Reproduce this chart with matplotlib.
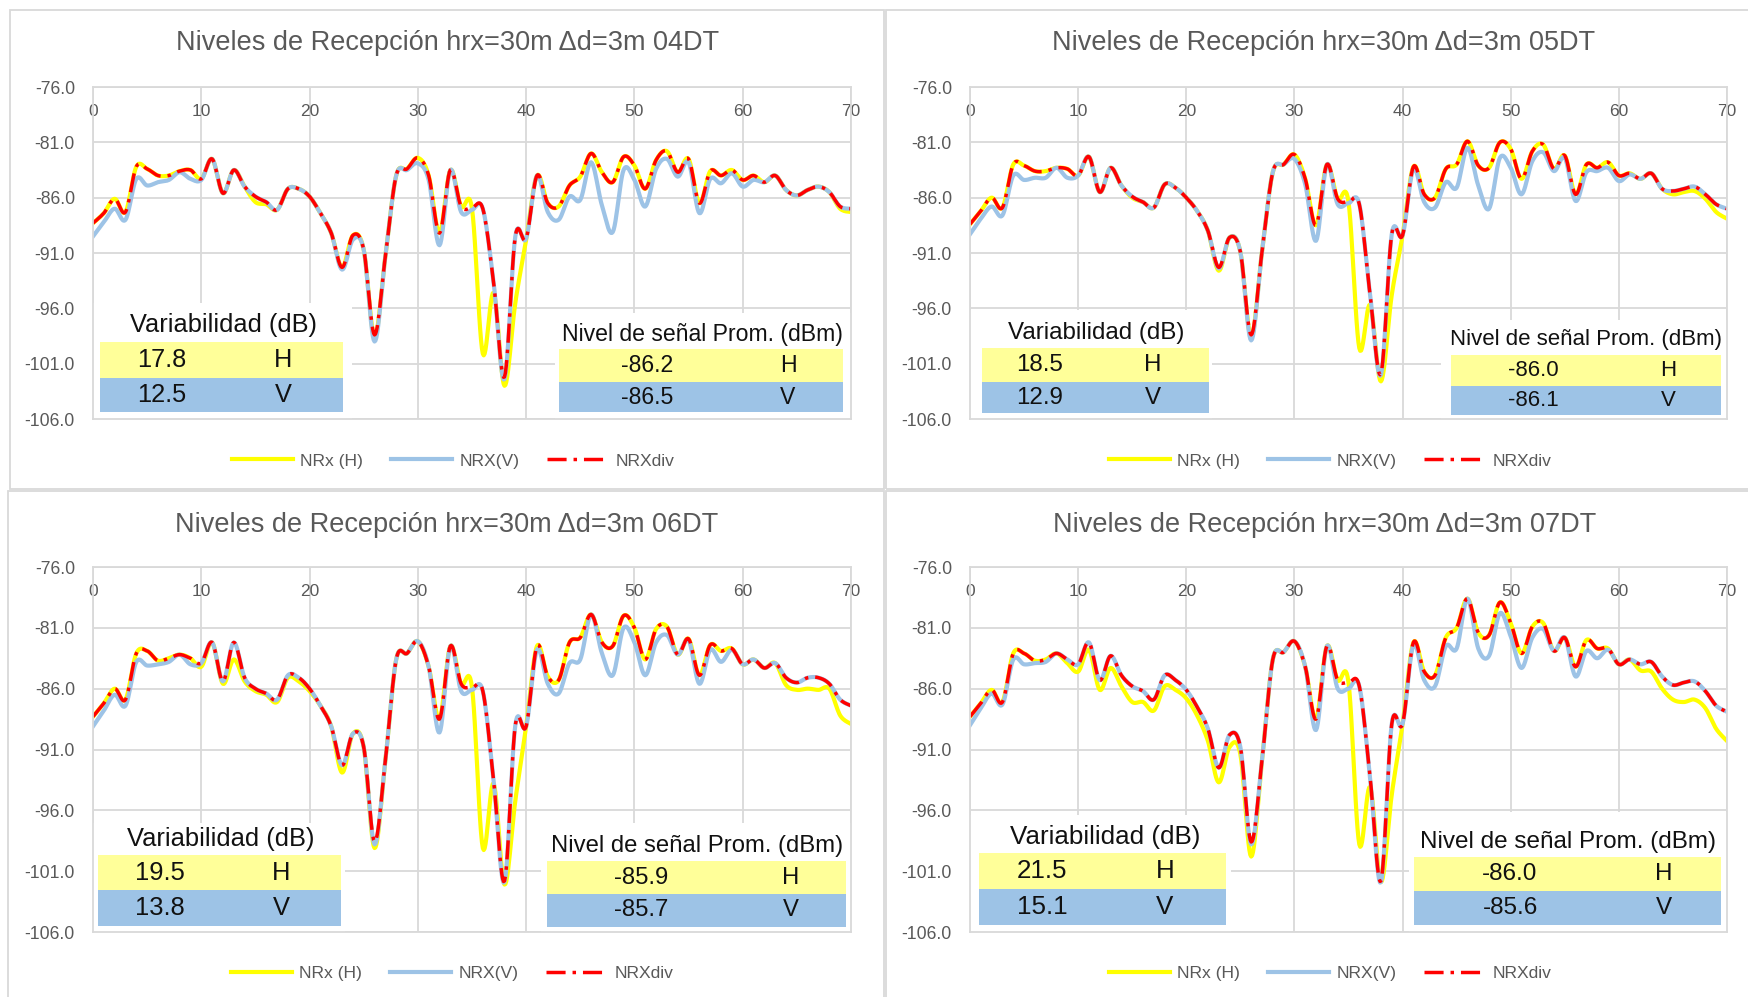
import numpy as np
import matplotlib
matplotlib.use("Agg")
import matplotlib.pyplot as plt
from matplotlib.patches import Rectangle

plt.rcParams["font.family"] = ["Liberation Sans", "DejaVu Sans"]

# ---- data -----------------------------------------------------------------
DIST = np.arange(0, 71)          # distance [m], one sample per metre
TITLES = ["Niveles de Recepción hrx=30m Δd=3m 04DT",
          "Niveles de Recepción hrx=30m Δd=3m 05DT",
          "Niveles de Recepción hrx=30m Δd=3m 06DT",
          "Niveles de Recepción hrx=30m Δd=3m 07DT"]
YTICKS = [-106.0, -101.0, -96.0, -91.0, -86.0, -81.0, -76.0]
XTICKS = [0, 10, 20, 30, 40, 50, 60, 70]
LEGEND = ["NRx (H)", "NRX(V)", "NRXdiv"]

VAR_H = [17.8, 18.5, 19.5, 21.5]
VAR_V = [12.5, 12.9, 13.8, 15.1]
PROM_H = [-86.2, -86.0, -85.9, -86.0]
PROM_V = [-86.5, -86.1, -85.7, -85.6]

H_04 = [-88.3, -87.4, -86.1, -87.3, -83.2, -83.4, -84.0, -84.0, -83.6, -83.5,
        -84.3, -82.5, -85.6, -83.5, -85.0, -86.4, -86.6, -87.1, -85.2, -85.2,
        -85.9, -87.4, -89.2, -92.3, -89.4, -90.7, -98.6, -91.3, -84.0, -83.4,
        -82.4, -84.0, -89.2, -83.5, -86.8, -87.0, -100.1, -94.6, -103.0, -95.5,
        -89.8, -84.0, -86.5, -86.8, -84.9, -84.1, -82.0, -83.7, -84.6, -82.3,
        -83.1, -85.2, -82.6, -81.8, -83.7, -82.5, -86.5, -83.6, -84.0, -83.5,
        -84.4, -84.0, -84.6, -84.0, -85.3, -85.8, -85.3, -85.0, -85.5, -87.0,
        -87.3]
V_04 = [-89.5, -88.2, -87.0, -88.0, -84.3, -84.9, -84.6, -84.4, -83.7, -84.3,
        -84.4, -82.5, -85.6, -83.5, -85.0, -85.9, -86.4, -87.1, -85.2, -85.2,
        -85.9, -87.4, -89.2, -92.5, -89.8, -90.7, -99.0, -91.3, -84.0, -83.5,
        -82.9, -84.4, -90.3, -83.5, -87.3, -87.1, -87.0, -93.7, -102.4, -89.5,
        -89.7, -84.0, -87.3, -88.0, -85.9, -86.2, -82.8, -86.7, -89.1, -83.5,
        -84.4, -86.8, -83.4, -82.5, -84.1, -82.8, -87.4, -84.3, -84.7, -83.8,
        -85.0, -84.4, -84.6, -84.0, -85.3, -85.8, -85.3, -85.0, -85.5, -86.8,
        -87.0]
D_04 = [-88.3, -87.4, -86.1, -87.3, -83.2, -83.4, -84.0, -84.0, -83.6, -83.5,
        -84.3, -82.5, -85.6, -83.5, -85.0, -85.9, -86.4, -87.1, -85.2, -85.2,
        -85.9, -87.4, -89.2, -92.3, -89.4, -90.7, -98.4, -91.3, -84.0, -83.4,
        -82.4, -84.0, -89.2, -83.5, -86.8, -86.9, -87.0, -93.7, -102.2, -89.5,
        -89.7, -84.0, -86.5, -86.8, -84.9, -84.1, -82.0, -83.7, -84.6, -82.3,
        -83.1, -85.2, -82.6, -81.8, -83.7, -82.5, -86.5, -83.6, -84.0, -83.5,
        -84.4, -84.0, -84.6, -84.0, -85.3, -85.8, -85.3, -85.0, -85.5, -86.8,
        -87.0]

H_05 = [-88.4, -87.2, -86.0, -86.9, -83.0, -83.1, -83.6, -83.6, -83.3, -83.4,
        -84.0, -82.3, -85.5, -83.3, -84.9, -86.0, -86.4, -86.9, -84.8, -85.1,
        -86.0, -87.2, -89.0, -92.6, -89.6, -90.9, -98.6, -90.9, -83.7, -83.0,
        -82.1, -84.3, -88.5, -83.0, -86.1, -86.4, -99.6, -95.7, -102.6, -94.8,
        -89.4, -83.2, -85.7, -86.0, -83.4, -83.0, -80.9, -83.1, -83.3, -81.0,
        -81.6, -84.3, -81.8, -81.2, -83.4, -82.2, -85.7, -83.0, -83.3, -82.8,
        -84.0, -83.8, -84.3, -83.8, -85.2, -85.7, -85.5, -85.4, -86.1, -87.3,
        -87.9]
V_05 = [-89.3, -87.9, -86.8, -87.6, -84.0, -84.4, -84.2, -84.2, -83.3, -84.2,
        -84.0, -82.3, -85.5, -83.3, -84.9, -85.9, -86.4, -86.9, -84.8, -85.1,
        -86.0, -87.2, -89.0, -92.4, -89.6, -90.9, -98.9, -90.9, -83.7, -83.0,
        -82.5, -84.8, -89.9, -83.0, -86.6, -86.5, -86.6, -94.8, -102.0, -89.3,
        -89.4, -83.4, -86.4, -86.9, -84.6, -85.1, -81.5, -84.9, -87.0, -82.4,
        -83.3, -85.7, -82.7, -81.9, -83.6, -82.4, -86.3, -83.7, -83.6, -83.3,
        -84.5, -83.9, -84.3, -83.8, -85.2, -85.4, -85.2, -85.0, -85.7, -86.6,
        -87.0]
D_05 = [-88.4, -87.2, -86.0, -86.9, -83.0, -83.1, -83.6, -83.6, -83.3, -83.4,
        -84.0, -82.3, -85.5, -83.3, -84.9, -85.9, -86.4, -86.9, -84.8, -85.1,
        -86.0, -87.2, -89.0, -92.3, -89.6, -90.9, -98.4, -90.9, -83.7, -83.0,
        -82.1, -84.3, -88.5, -83.0, -86.1, -86.4, -86.6, -94.8, -101.9, -89.3,
        -89.4, -83.2, -85.7, -86.0, -83.4, -83.0, -80.9, -83.1, -83.3, -81.0,
        -81.6, -84.3, -81.8, -81.2, -83.4, -82.2, -85.7, -83.0, -83.3, -82.8,
        -84.0, -83.8, -84.3, -83.8, -85.2, -85.4, -85.2, -85.0, -85.7, -86.6,
        -87.0]

H_06 = [-88.3, -87.2, -86.0, -86.9, -83.1, -82.9, -83.7, -83.5, -83.2, -83.5,
        -84.2, -82.2, -85.6, -83.6, -85.4, -86.2, -86.5, -87.1, -85.1, -85.4,
        -86.2, -87.4, -89.1, -92.9, -89.7, -90.8, -99.1, -91.9, -83.6, -83.1,
        -82.1, -84.2, -88.5, -82.5, -85.6, -85.9, -99.1, -93.8, -102.1, -95.2,
        -89.1, -82.5, -85.0, -85.3, -82.2, -81.8, -79.9, -82.2, -82.5, -80.0,
        -81.0, -83.6, -81.1, -80.9, -83.2, -81.9, -84.9, -82.4, -82.9, -82.7,
        -84.0, -83.6, -84.3, -83.9, -85.7, -86.1, -86.0, -86.1, -86.0, -88.2,
        -88.9]
V_06 = [-89.1, -87.8, -86.5, -87.4, -83.8, -84.1, -84.0, -83.8, -83.2, -84.0,
        -83.9, -82.2, -85.4, -82.2, -85.1, -86.0, -86.4, -86.9, -84.9, -85.1,
        -86.0, -87.4, -89.1, -92.3, -89.7, -90.8, -98.8, -91.9, -83.6, -83.1,
        -82.1, -84.2, -89.6, -82.5, -86.2, -86.1, -86.2, -93.6, -101.9, -89.0,
        -89.1, -82.8, -85.6, -86.4, -83.9, -83.6, -79.9, -83.1, -84.9, -81.0,
        -82.2, -84.9, -82.2, -81.6, -83.2, -82.0, -85.6, -82.8, -83.8, -82.8,
        -84.0, -83.6, -84.3, -83.9, -85.1, -85.5, -85.1, -85.1, -85.6, -86.9,
        -87.4]
D_06 = [-88.3, -87.2, -86.0, -86.9, -83.1, -82.9, -83.7, -83.5, -83.2, -83.5,
        -83.9, -82.2, -85.4, -82.2, -85.1, -86.0, -86.4, -86.9, -84.9, -85.1,
        -86.0, -87.4, -89.1, -92.3, -89.7, -90.8, -98.6, -91.9, -83.6, -83.1,
        -82.1, -84.2, -88.5, -82.5, -85.6, -85.9, -86.2, -93.6, -101.8, -89.0,
        -89.1, -82.5, -85.0, -85.3, -82.2, -81.8, -79.9, -82.2, -82.5, -80.0,
        -81.0, -83.6, -81.1, -80.9, -83.2, -81.9, -84.9, -82.4, -82.9, -82.7,
        -84.0, -83.6, -84.3, -83.9, -85.1, -85.5, -85.1, -85.1, -85.6, -86.9,
        -87.4]

H_07 = [-88.3, -87.2, -86.1, -87.1, -83.1, -83.1, -83.7, -83.6, -83.1, -83.9,
        -84.6, -82.8, -86.1, -84.3, -85.8, -87.1, -87.1, -87.8, -85.8, -86.1,
        -86.8, -88.2, -90.3, -93.7, -90.8, -91.4, -99.8, -91.9, -83.6, -83.0,
        -82.1, -84.2, -88.5, -82.5, -85.3, -85.5, -98.8, -94.1, -101.9, -94.7,
        -88.9, -82.2, -84.6, -84.9, -81.8, -81.0, -78.6, -81.4, -81.6, -78.9,
        -80.6, -83.1, -80.9, -80.6, -82.9, -81.8, -84.2, -82.0, -82.7, -82.7,
        -84.0, -83.6, -84.5, -84.6, -86.0, -86.9, -87.1, -86.9, -87.6, -89.3,
        -90.3]
V_07 = [-89.0, -87.6, -86.4, -87.3, -83.6, -84.0, -83.9, -83.8, -83.1, -83.6,
        -84.0, -82.2, -85.3, -83.3, -84.9, -85.8, -86.2, -86.9, -84.9, -85.3,
        -86.1, -87.5, -89.3, -92.5, -89.8, -90.8, -98.8, -91.9, -83.6, -83.0,
        -82.1, -84.2, -89.4, -82.5, -86.0, -86.0, -85.8, -93.3, -101.9, -88.9,
        -88.9, -82.4, -85.3, -85.8, -82.5, -82.7, -78.6, -82.7, -83.3, -79.8,
        -81.7, -84.3, -81.8, -81.1, -82.9, -81.8, -85.0, -82.9, -83.5, -82.8,
        -84.0, -83.6, -84.0, -83.8, -85.0, -85.7, -85.5, -85.4, -86.2, -87.4,
        -87.9]
D_07 = [-88.3, -87.2, -86.1, -87.1, -83.1, -83.1, -83.7, -83.6, -83.1, -83.6,
        -84.0, -82.2, -85.3, -83.3, -84.9, -85.8, -86.2, -86.9, -84.9, -85.3,
        -86.1, -87.5, -89.3, -92.5, -89.8, -90.8, -98.6, -91.9, -83.6, -83.0,
        -82.1, -84.2, -88.5, -82.5, -85.3, -85.5, -85.8, -93.3, -101.8, -88.9,
        -88.9, -82.2, -84.6, -84.9, -81.8, -81.0, -78.6, -81.4, -81.6, -78.9,
        -80.6, -83.1, -80.9, -80.6, -82.9, -81.8, -84.2, -82.0, -82.7, -82.7,
        -84.0, -83.6, -84.0, -83.8, -85.0, -85.7, -85.5, -85.4, -86.2, -87.4,
        -87.9]

SERIES = [(H_04, V_04, D_04), (H_05, V_05, D_05),
          (H_06, V_06, D_06), (H_07, V_07, D_07)]

# ---- layout, in reference pixels (x from left, y from top) ----------------
W, H = 1748, 997
DPI = 100
FRAMES = [(10, 10, 884, 489), (886, 10, 1752, 489),
          (8, 491, 884, 1001), (886, 491, 1752, 1001)]
AXES = [(93, 87, 851, 419), (970, 87, 1727, 419),
        (93, 567, 851, 932), (970, 567, 1727, 932)]
TITLE_XY = [(448, 43), (1324, 43), (447, 525), (1325, 525)]
LEGEND_XY = [(453, 461), (1330, 461), (452, 973), (1330, 973)]
# white box, header xy, header size, row x-range, row y-edges, value/letter x, row size
VAR_BOX = [
    ((93, 303, 352, 419), (223, 325), 18.3, (100, 343), (342, 378, 412), (162, 283), 18.3),
    ((970, 310, 1212, 419), (1096, 333), 17.4, (982, 1209), (348, 382, 413), (1040, 1153), 17.4),
    ((93, 823, 345, 932), (221, 839), 18.4, (98, 341), (855, 890, 926), (160, 281), 18.4),
    ((970, 815, 1231, 932), (1105, 837), 18.7, (979, 1226), (853, 889, 925), (1042, 1165), 18.7),
]
PROM_BOX = [
    ((555, 313, 852, 419), (702, 335), 16.6, (559, 843), (349, 382, 412), (647, 788), 16.6),
    ((1441, 320, 1728, 419), (1586, 340), 16.0, (1451, 1721), (355, 386, 415), (1533, 1668), 16.0),
    ((541, 823, 852, 932), (697, 846), 17.2, (547, 846), (861, 894, 927), (641, 791), 17.2),
    ((1409, 812, 1728, 932), (1568, 842), 17.5, (1414, 1721), (857, 891, 925), (1510, 1664), 17.5),
]

GRID = "#d9d9d9"
GRAY_TXT = "#595959"
YELLOW, BLUE, RED = "#ffff00", "#9dc3e6", "#ff0000"
ROW_YELLOW, ROW_BLUE = "#ffff99", "#9dc3e6"


def fx(px):
    return px / W


def fy(py):
    return 1.0 - py / H


def smooth(x, y, n=12):
    """Excel-like smoothed line: Catmull-Rom bezier through the samples."""
    x = np.asarray(x, float)
    y = np.asarray(y, float)
    xp = np.r_[x[0], x, x[-1]]
    yp = np.r_[y[0], y, y[-1]]
    t = np.linspace(0, 1, n, endpoint=False)
    b0, b1, b2, b3 = (1 - t) ** 3, 3 * t * (1 - t) ** 2, 3 * t ** 2 * (1 - t), t ** 3
    xs, ys = [], []
    for i in range(len(x) - 1):
        p = [(xp[i + k], yp[i + k]) for k in range(4)]
        c1 = (p[1][0] + (p[2][0] - p[0][0]) / 6, p[1][1] + (p[2][1] - p[0][1]) / 6)
        c2 = (p[2][0] - (p[3][0] - p[1][0]) / 6, p[2][1] - (p[3][1] - p[1][1]) / 6)
        xs.append(b0 * p[1][0] + b1 * c1[0] + b2 * c2[0] + b3 * p[2][0])
        ys.append(b0 * p[1][1] + b1 * c1[1] + b2 * c2[1] + b3 * p[2][1])
    xs.append([x[-1]])
    ys.append([y[-1]])
    return np.concatenate(xs), np.concatenate(ys)


def draw_table(ax, spec, header, rows):
    (wx0, wy0, wx1, wy1), (hx, hy), hsize, (rx0, rx1), (ya, yb, yc), (vx, lx), rsize = spec
    ax.add_patch(Rectangle((fx(wx0), fy(wy1)), fx(wx1) - fx(wx0), (wy1 - wy0) / H,
                           transform=ax.figure.transFigure, facecolor="white",
                           edgecolor="none", zorder=1.5))
    ax.text(fx(hx), fy(hy), header, transform=ax.figure.transFigure,
            ha="center", va="center", fontsize=hsize, color="#111111",
            zorder=6, clip_on=False)
    for (top, bot), (val, letter, color) in zip([(ya, yb), (yb, yc)], rows):
        ax.add_patch(Rectangle((fx(rx0), fy(bot)), fx(rx1) - fx(rx0), (bot - top) / H,
                               transform=ax.figure.transFigure, facecolor=color,
                               edgecolor="none", zorder=5, clip_on=False))
        ymid = fy((top + bot) / 2)
        ax.text(fx(vx), ymid, val, transform=ax.figure.transFigure, ha="center",
                va="center", fontsize=rsize, color="#111111", zorder=6, clip_on=False)
        ax.text(fx(lx), ymid, letter, transform=ax.figure.transFigure, ha="center",
                va="center", fontsize=rsize, color="#111111", zorder=6, clip_on=False)


def main():
    fig = plt.figure(figsize=(W / DPI, H / DPI), dpi=DPI, facecolor="white")

    for x0, y0, x1, y1 in FRAMES:
        fig.add_artist(Rectangle((fx(x0), fy(y1)), fx(x1) - fx(x0), (y1 - y0) / H,
                                 transform=fig.transFigure, fill=False,
                                 edgecolor=GRID, linewidth=1.3))

    for i, (h, v, d) in enumerate(SERIES):
        l, t, r, b = AXES[i]
        ax = fig.add_axes([fx(l), fy(b), fx(r) - fx(l), (b - t) / H])
        ax.set_xlim(0, 70)
        ax.set_ylim(-106, -76)
        ax.set_xticks(XTICKS)
        ax.set_xticklabels([str(x) for x in XTICKS])
        ax.set_yticks(YTICKS)
        ax.set_yticklabels([f"{y:.1f}" for y in YTICKS])
        ax.set_axisbelow(True)
        ax.grid(True, color=GRID, linewidth=1.3)
        for sp in ax.spines.values():
            sp.set_color(GRID)
            sp.set_linewidth(1.3)
        ax.tick_params(axis="x", top=True, labeltop=True, bottom=False,
                       labelbottom=False, length=0, pad=-23,
                       labelsize=12.5, labelcolor=GRAY_TXT)
        ax.tick_params(axis="y", length=0, pad=13, labelsize=12.7,
                       labelcolor=GRAY_TXT)

        ax.plot(*smooth(DIST, h), color=YELLOW, linewidth=3.0,
                solid_joinstyle="round", zorder=2.0, label=LEGEND[0])
        ax.plot(*smooth(DIST, v), color=BLUE, linewidth=3.0,
                solid_joinstyle="round", zorder=2.1, label=LEGEND[1])
        ax.plot(*smooth(DIST, d), color=RED, linewidth=2.5,
                dashes=(5.5, 2.0, 1.0, 2.0), zorder=2.2, label=LEGEND[2])

        tx, ty = TITLE_XY[i]
        fig.text(fx(tx), fy(ty), TITLES[i], ha="center", va="center",
                 fontsize=19.5, color=GRAY_TXT)

        draw_table(ax, VAR_BOX[i], "Variabilidad (dB)",
                   [(f"{VAR_H[i]:.1f}", "H", ROW_YELLOW),
                    (f"{VAR_V[i]:.1f}", "V", ROW_BLUE)])
        draw_table(ax, PROM_BOX[i], "Nivel de señal Prom. (dBm)",
                   [(f"{PROM_H[i]:.1f}", "H", ROW_YELLOW),
                    (f"{PROM_V[i]:.1f}", "V", ROW_BLUE)])

        lx, ly = LEGEND_XY[i]
        ax.legend(loc="center", bbox_to_anchor=(fx(lx), fy(ly)),
                  bbox_transform=fig.transFigure, ncol=3, frameon=False,
                  fontsize=12.6, handlelength=3.5, handletextpad=0.4,
                  columnspacing=1.6, labelcolor=GRAY_TXT)

    fig.savefig("out.png", dpi=DPI, facecolor="white")


if __name__ == "__main__":
    main()
